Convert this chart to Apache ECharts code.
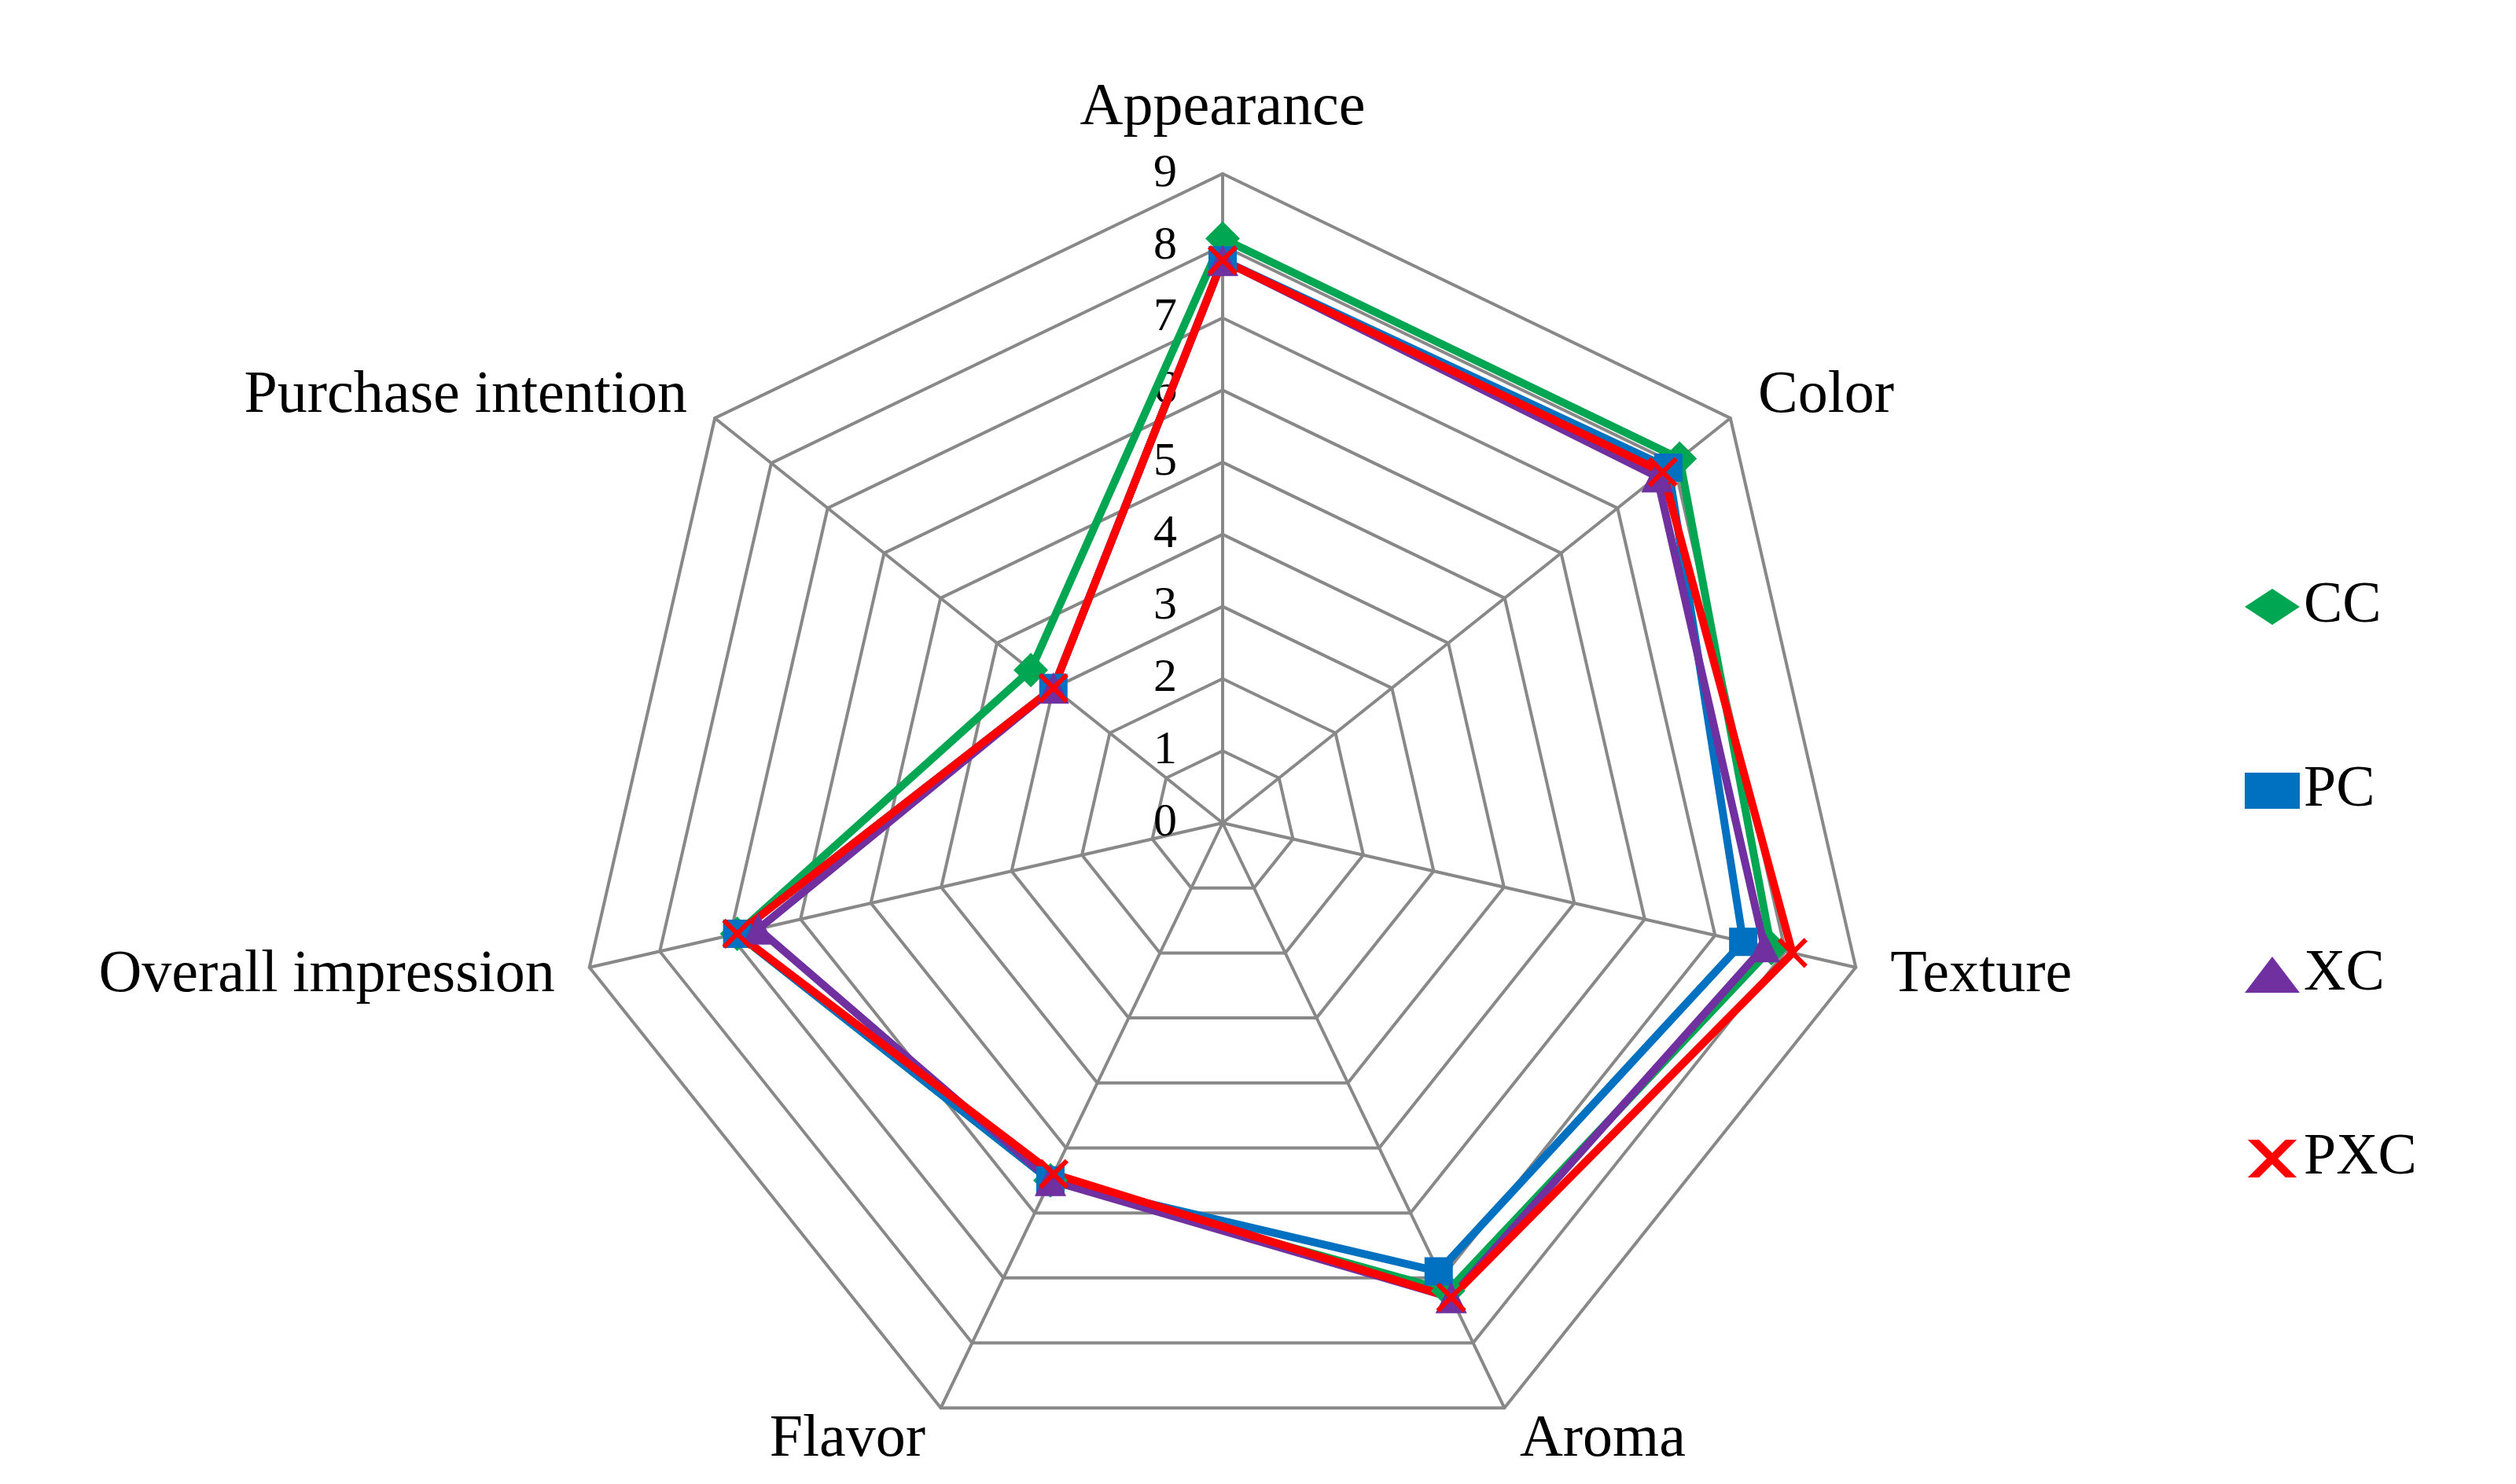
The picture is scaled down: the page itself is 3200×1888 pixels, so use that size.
<!DOCTYPE html><html><head><meta charset="utf-8"><script src="https://cdn.jsdelivr.net/npm/echarts@6/dist/echarts.min.js"></script></head><body style="margin:0"><div id="c" style="width:3200px;height:1888px;background:#fff"></div><script>
// order clockwise from top in the picture
const categories=['Appearance','Color','Texture','Aroma','Flavor','Overall impression','Purchase intention'];
const CC=[8.1,8.1,7.8,7.2,5.5,6.9,3.4];
const PC=[7.8,7.9,7.4,6.9,5.5,6.9,3.0];
const XC=[7.8,7.7,7.7,7.3,5.5,6.6,3.0];
const PXC=[7.8,7.8,8.1,7.3,5.4,6.9,3.0];
const ticks=['0','1','2','3','4','5','6','7','8','9'];
// ECharts radar runs counterclockwise; reorder to clockwise
const ord=[0,6,5,4,3,2,1];
const re=a=>ord.map(i=>a[i]);
const font='"Liberation Serif", "DejaVu Serif", serif';
const ser=[['CC',CC,'#00a651','diamond',44],['PC',PC,'#0070c0','rect',36],['XC',XC,'#7030a0','triangle',40],['PXC',PXC,'#ff0000','path://M0,0L10,10M10,0L0,10',34]];
const chart=echarts.init(document.getElementById('c'));
chart.setOption({
 animation:false,
 textStyle:{fontFamily:font},
 legend:{orient:'vertical',left:2850,top:730,itemGap:160,itemWidth:70,itemHeight:46,
  textStyle:{fontSize:74,fontFamily:font,color:'#000'},
  data:ser.map(s=>({name:s[0],icon:s[0]==='PXC'?'path://M0,0L2,0L5,3L8,0L10,0L6,4L10,8L8,8L5,5L2,8L0,8L4,4Z':s[3]}))},
 radar:{center:[1555,1047],radius:826,startAngle:90,splitNumber:9,shape:'polygon',
  indicator:re(categories).map(n=>({name:n,min:0,max:9})),
  axisName:{color:'#000',fontSize:76,fontFamily:font},nameGap:45,
  splitArea:{show:false},splitLine:{lineStyle:{color:'#888',width:4}},axisLine:{lineStyle:{color:'#888',width:4}}},
 polar:{center:[1555,1047],radius:826},
 angleAxis:{show:false,min:0,max:360,startAngle:90},
 radiusAxis:{min:0,max:9,interval:1,axisLine:{show:false},axisTick:{show:false},splitLine:{show:false},
  axisLabel:{fontSize:60,color:'#000',fontFamily:font,align:'right',padding:[0,50,0,0],formatter:v=>ticks[v]}},
 series:ser.map(s=>({type:'radar',name:s[0],symbol:s[3],symbolSize:s[4],
  lineStyle:{width:10,color:s[2]},itemStyle:{color:s[2],borderColor:s[2],borderWidth:s[0]==='PXC'?6:0},
  data:[{value:re(s[1]),name:s[0]}]}))
});
</script></body></html>
